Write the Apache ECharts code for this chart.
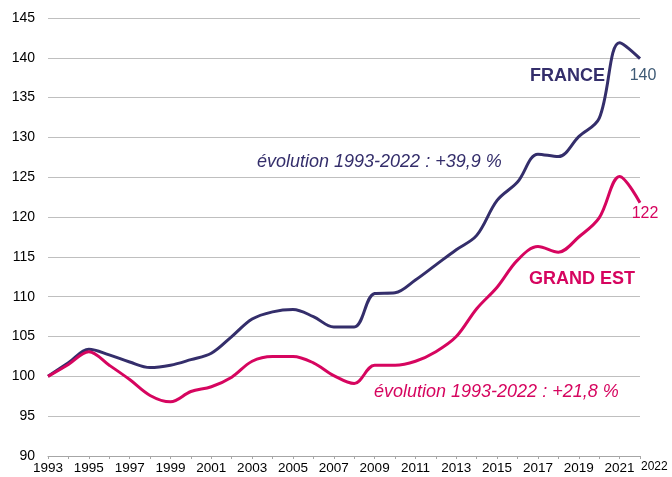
<!DOCTYPE html>
<html>
<head>
<meta charset="utf-8">
<script src="https://cdn.jsdelivr.net/npm/echarts@6/dist/echarts.min.js"></script>
<style>
  html, body { margin: 0; padding: 0; background: #fff; }
  #chart { width: 672px; height: 477px; }
</style>
</head>
<body>
<div id="chart"></div>
<script>
const years = [];
for (let y = 1993; y <= 2022; y++) years.push(String(y));

const france = [100, 101.7, 103.4, 102.7, 101.8, 101.1, 101.4, 102.1, 102.9, 105.0,
  107.2, 108.1, 108.4, 107.5, 106.2, 106.2, 110.4, 110.5, 112.1, 114.0,
  115.9, 117.7, 122.1, 124.4, 127.9, 127.6, 130.1, 132.4, 141.9, 139.9];

const grandEst = [100, 101.5, 103.1, 101.4, 99.6, 97.6, 96.8, 98.1, 98.7, 99.9,
  101.9, 102.5, 102.5, 101.7, 100.1, 99.1, 101.4, 101.4, 101.9, 103.1,
  105.0, 108.5, 111.2, 114.6, 116.3, 115.6, 117.5, 119.9, 125.1, 121.8];

const navy = '#342e6b';
const pink = '#d6055f';
const font = 'Liberation Sans, Arial, sans-serif';

// only the last point gets a label
const withEndLabel = (arr, color, offset) => arr.map((v, i) => i === arr.length - 1
  ? { value: v, label: { show: true, position: 'bottom', distance: 2, offset, color, fontSize: 16, fontFamily: font,
      formatter: (p) => Math.round(p.value) } }
  : v);

const chart = echarts.init(document.getElementById('chart'));

chart.setOption({
  animation: false,
  grid: { left: 48, right: 32, top: 18, bottom: 21 },
  xAxis: {
    type: 'category',
    data: years,
    boundaryGap: false,
    axisLine: { lineStyle: { color: '#a6a6a6' } },
    axisTick: { show: true, interval: 0, length: 3, lineStyle: { color: '#a6a6a6' } },
    axisLabel: {
      interval: (idx) => idx % 2 === 0 || idx === years.length - 1,
      color: '#000',
      fontSize: 13.5,
      fontFamily: font,
      margin: 5,
      alignMaxLabel: 'left',
      formatter: (v, idx) => idx === years.length - 1 ? '{last|' + v + '}' : v,
      rich: { last: { fontSize: 12, fontFamily: font, color: '#000', padding: [0, 0, 3, 1] } }
    },
    splitLine: { show: false }
  },
  yAxis: {
    type: 'value',
    min: 90,
    max: 145,
    interval: 5,
    axisLine: { show: false },
    axisTick: { show: false },
    axisLabel: { color: '#000', fontSize: 14, fontFamily: font, margin: 13 },
    splitLine: { lineStyle: { color: '#bfbfbf', width: 1 } }
  },
  series: [
    {
      name: 'FRANCE',
      type: 'line',
      data: withEndLabel(france, '#3e5a75', [3, 7]),
      smooth: 0.35,
      showSymbol: true,
      symbolSize: 0,
      lineStyle: { color: navy, width: 3 },
      itemStyle: { color: navy }
    },
    {
      name: 'GRAND EST',
      type: 'line',
      data: withEndLabel(grandEst, pink, [5, 1]),
      smooth: 0.35,
      showSymbol: true,
      symbolSize: 0,
      lineStyle: { color: pink, width: 3 },
      itemStyle: { color: pink }
    }
  ],
  graphic: [
    { type: 'text', left: 530, top: 67, style: { text: 'FRANCE', fill: navy, font: 'bold 18px ' + font } },
    { type: 'text', left: 529, top: 270, style: { text: 'GRAND EST', fill: pink, font: 'bold 18px ' + font } },
    { type: 'text', left: 257, top: 153, style: { text: 'évolution 1993-2022 : +39,9 %', fill: navy, font: 'italic 18px ' + font } },
    { type: 'text', left: 374, top: 383, style: { text: 'évolution 1993-2022 : +21,8 %', fill: pink, font: 'italic 18px ' + font } }
  ]
});
</script>
</body>
</html>
